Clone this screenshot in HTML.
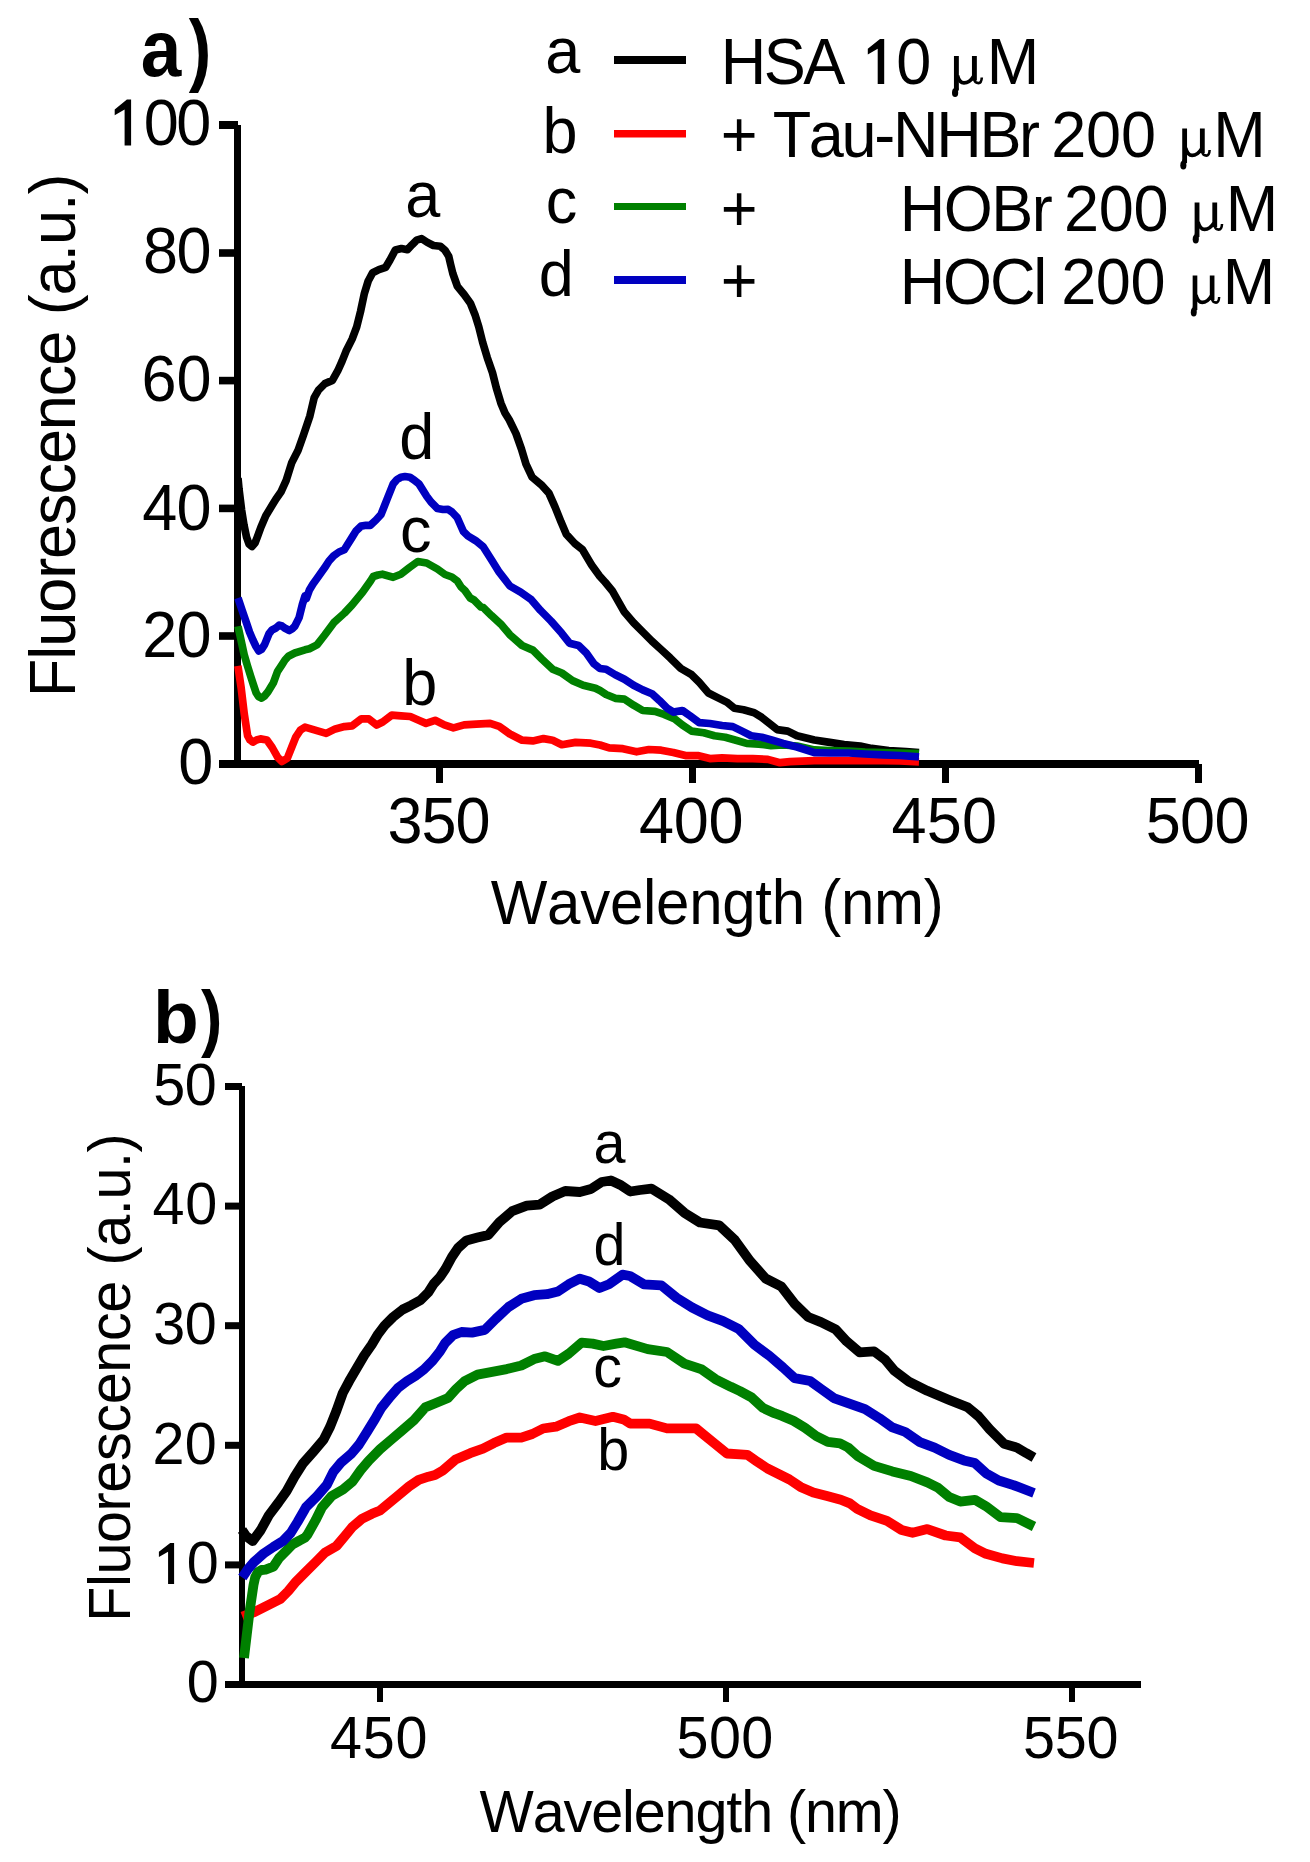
<!DOCTYPE html>
<html><head><meta charset="utf-8"><style>
html,body{margin:0;padding:0;background:#fff;}
svg{display:block;}
text{fill:#000;font-kerning:none;font-variant-ligatures:none;}
</style></head><body>
<svg width="1310" height="1862" viewBox="0 0 1310 1862" shape-rendering="auto">
<rect width="1310" height="1862" fill="#fff"/>
<rect x="234" y="125" width="7" height="643" fill="#000"/>
<rect x="219" y="760" width="980" height="8" fill="#000"/>
<rect x="219" y="249.2" width="15" height="7.6" fill="#000"/>
<rect x="219" y="376.8" width="15" height="7.6" fill="#000"/>
<rect x="219" y="504.6" width="15" height="7.6" fill="#000"/>
<rect x="219" y="632.2" width="15" height="7.6" fill="#000"/>
<rect x="219" y="121" width="19" height="8" fill="#000"/>
<rect x="436" y="764" width="7" height="19" fill="#000"/>
<rect x="689" y="764" width="7" height="19" fill="#000"/>
<rect x="942" y="764" width="7" height="19" fill="#000"/>
<rect x="1195" y="764" width="7" height="19" fill="#000"/>
<path d="M131.10,145.40 L131.10,99.60 L126.90,99.60 L114.70,109.50 L114.70,115.30 L124.60,109.50 L124.60,145.40 Z" fill="#000"/>
<text transform="translate(143.64,145.4) scale(1,1.04)" font-size="63" font-family='"Liberation Sans", sans-serif' letter-spacing="-2.45" xml:space="preserve">00</text>
<text transform="translate(143.06,273.4) scale(1,1.04)" font-size="63" font-family='"Liberation Sans", sans-serif' letter-spacing="-1.68" xml:space="preserve">80</text>
<text transform="translate(141.40,401.4) scale(1,1.04)" font-size="63" font-family='"Liberation Sans", sans-serif' letter-spacing="0.08" xml:space="preserve">60</text>
<text transform="translate(142.25,529.5) scale(1,1.04)" font-size="63" font-family='"Liberation Sans", sans-serif' letter-spacing="-0.87" xml:space="preserve">40</text>
<text transform="translate(142.23,656.5) scale(1,1.04)" font-size="63" font-family='"Liberation Sans", sans-serif' letter-spacing="-0.85" xml:space="preserve">20</text>
<text transform="translate(178.34,784.1) scale(1,1.04)" font-size="63" font-family='"Liberation Sans", sans-serif' xml:space="preserve">0</text>
<text transform="translate(387.60,843.4) scale(1,1.04)" font-size="63" font-family='"Liberation Sans", sans-serif' letter-spacing="-1.13" xml:space="preserve">350</text>
<text transform="translate(639.05,843.4) scale(1,1.04)" font-size="63" font-family='"Liberation Sans", sans-serif' letter-spacing="-0.35" xml:space="preserve">400</text>
<text transform="translate(891.55,843.4) scale(1,1.04)" font-size="63" font-family='"Liberation Sans", sans-serif' letter-spacing="0.20" xml:space="preserve">450</text>
<text transform="translate(1145.78,843.4) scale(1,1.04)" font-size="63" font-family='"Liberation Sans", sans-serif' letter-spacing="-0.71" xml:space="preserve">500</text>
<text transform="translate(490.74,924) scale(1,1.04)" font-size="60" font-family='"Liberation Sans", sans-serif' letter-spacing="-0.27" xml:space="preserve">Wavelength (nm)</text>
<text transform="translate(75,697.17) rotate(-90) scale(1,1.04)" font-size="63" font-family='"Liberation Sans", sans-serif' letter-spacing="-1.06" xml:space="preserve">Fluorescence (a.u.)</text>
<text transform="translate(140.76,76.2) scale(0.911,1.0)" font-size="80" font-family='"Liberation Sans", sans-serif' font-weight="bold">a</text>
<text transform="translate(188.83,76.2) scale(0.845,0.99)" font-size="80" font-family='"Liberation Sans", sans-serif' font-weight="bold">)</text>
<polyline points="238.0,478.0 239.0,489.0 241.6,510.0 244.0,525.0 246.5,537.0 249.0,544.0 252.0,546.5 255.0,543.0 257.2,537.3 261.0,527.0 265.8,515.8 272.3,505.0 276.0,499.0 280.9,492.1 286.2,480.3 291.6,463.1 298.1,450.2 303.4,435.2 309.9,415.9 314.2,397.6 318.5,390.1 324.9,383.6 332.4,380.4 337.8,370.7 342.1,361.1 346.0,351.3 352.1,339.1 356.7,326.9 360.5,311.6 364.4,293.3 368.2,281.0 372.7,272.7 378.9,269.6 385.7,267.3 390.0,260.0 395.3,250.0 401.4,248.5 407.5,249.7 412.1,244.7 416.6,240.2 421.6,238.6 427.3,242.4 433.4,245.5 440.3,246.3 444.9,250.1 448.7,256.2 450.5,264.0 452.8,273.4 457.4,286.4 464.3,294.8 470.4,303.2 475.0,314.7 478.8,326.9 482.6,342.1 487.2,357.4 492.5,372.7 496.3,387.9 500.9,403.2 505.0,413.0 509.2,419.8 516.0,433.6 521.4,448.9 526.0,464.1 532.1,477.1 541.2,484.7 548.9,493.1 555.0,506.9 561.1,522.1 566.4,534.4 574.8,543.5 582.4,549.6 591.6,564.9 599.2,575.6 605.0,582.0 612.2,590.7 618.3,601.4 624.4,612.1 633.6,622.7 642.7,631.9 651.9,641.1 661.1,649.5 670.2,657.9 680.9,668.5 691.6,674.7 699.2,682.3 708.4,693.0 717.6,697.6 726.7,702.1 734.4,708.2 743.5,709.8 754.2,712.8 761.8,717.4 769.5,723.5 777.1,729.6 787.8,731.1 797.0,735.7 814.4,740.0 828.1,742.1 844.1,744.5 860.2,746.1 871.6,748.4 888.8,750.5 906.0,751.5 919.0,752.5" fill="none" stroke="#000" stroke-width="7.7" stroke-linejoin="round" stroke-linecap="butt"/>
<polyline points="237.9,665.9 241.1,687.4 244.3,714.2 247.6,735.7 250.0,740.0 252.9,742.1 256.5,740.0 260.4,738.9 266.9,740.0 272.2,747.5 277.6,757.2 281.9,761.5 287.3,758.3 291.6,747.5 295.9,736.8 300.2,730.3 305.0,727.1 310.9,728.9 318.5,731.1 326.2,733.4 335.3,728.9 344.5,726.6 352.1,725.8 361.3,718.9 368.9,718.9 376.6,725.0 382.7,722.0 391.8,715.1 401.0,715.9 410.2,716.5 419.3,720.5 426.0,723.4 435.1,720.3 444.3,724.9 453.4,727.9 464.1,724.9 476.3,724.1 490.1,723.4 499.2,726.4 509.9,734.0 522.1,740.2 532.8,740.9 543.5,738.6 552.7,740.2 561.8,744.7 575.6,742.4 590.8,743.2 600.0,745.0 609.2,747.9 622.9,748.7 636.6,751.8 648.9,749.5 661.1,750.2 673.3,752.5 685.5,755.6 697.7,755.6 709.9,758.6 722.1,757.9 737.4,758.6 752.7,758.6 767.9,759.4 780.0,762.7 790.0,761.6 814.4,760.7 848.7,760.7 883.0,760.7 900.0,761.0 919.0,761.8" fill="none" stroke="#FF0000" stroke-width="7.7" stroke-linejoin="round" stroke-linecap="butt"/>
<polyline points="238.0,626.2 241.0,640.0 244.3,655.2 247.5,666.0 250.8,676.6 253.5,685.0 256.1,692.7 258.5,696.5 261.5,698.1 264.5,696.0 268.0,691.7 273.3,683.1 277.6,671.3 281.9,664.8 285.0,660.0 288.4,656.2 294.8,653.0 305.0,649.8 309.4,648.7 317.0,644.9 324.7,635.0 333.8,622.7 344.5,613.0 352.0,605.0 362.7,592.0 370.5,581.0 373.3,576.5 378.0,575.0 382.4,574.2 393.1,577.3 400.8,574.2 409.5,567.5 417.8,561.5 426.7,563.0 437.4,569.0 445.0,574.5 451.9,577.0 457.3,581.0 461.1,587.0 464.9,590.5 470.2,598.0 474.0,600.0 480.9,607.0 483.2,607.5 491.6,615.7 500.8,624.1 509.9,634.8 522.1,645.5 532.8,650.1 542.0,659.2 552.7,669.2 561.8,673.0 572.5,680.6 583.2,685.2 595.4,688.2 600.0,690.5 606.1,694.5 615.3,698.3 624.4,699.1 633.6,705.2 642.7,710.5 655.0,711.3 664.1,714.4 674.8,718.9 682.4,725.0 691.6,731.1 703.8,732.7 714.5,735.7 725.2,737.3 735.9,740.3 746.6,743.4 758.8,744.1 771.0,745.6 783.2,745.0 797.0,746.0 814.4,749.9 830.0,750.5 848.7,751.0 865.0,752.0 883.0,752.7 900.0,753.0 919.0,753.6" fill="none" stroke="#008000" stroke-width="7.7" stroke-linejoin="round" stroke-linecap="butt"/>
<polyline points="238.0,598.0 242.0,610.0 246.5,623.0 249.5,632.0 252.9,640.0 256.0,646.5 258.8,651.0 261.5,649.5 264.7,644.4 269.0,633.7 272.0,630.0 275.5,628.3 279.2,625.1 282.0,626.0 285.1,628.3 289.4,630.5 292.0,629.0 294.8,626.2 299.1,617.6 302.3,604.7 305.0,596.0 306.3,598.6 309.4,590.0 313.0,584.0 316.8,578.8 324.4,568.1 329.0,561.0 333.6,555.9 339.0,552.0 344.3,549.8 351.9,537.6 356.0,531.0 361.1,526.1 366.0,525.3 370.2,525.3 376.0,520.0 380.9,514.7 384.0,507.0 387.0,499.4 393.1,484.1 397.0,479.5 400.8,477.3 405.0,476.5 409.9,477.3 414.0,480.0 419.1,484.1 426.7,496.3 431.0,502.0 437.4,508.5 443.0,509.5 448.1,509.3 452.0,512.0 457.3,517.7 463.4,531.5 468.0,536.0 475.6,540.6 483.2,546.7 491.6,560.0 499.2,572.2 509.9,586.0 520.6,592.1 531.3,599.7 540.5,610.4 551.1,621.1 561.8,633.3 569.5,643.2 578.6,645.5 586.3,653.1 593.9,663.8 600.0,668.5 606.1,669.3 615.3,674.7 624.4,679.2 633.6,685.3 642.7,689.9 651.9,693.7 659.5,700.6 667.2,708.2 673.3,712.1 682.4,710.5 690.1,715.9 699.2,722.7 709.9,723.5 722.1,725.5 732.8,726.6 742.0,731.1 751.1,735.7 761.8,737.3 772.5,740.3 783.2,743.4 797.0,747.0 814.4,752.7 830.0,753.0 848.7,753.0 865.0,754.0 883.0,754.9 900.0,755.5 919.0,756.8" fill="none" stroke="#0000C0" stroke-width="7.7" stroke-linejoin="round" stroke-linecap="butt"/>
<text transform="translate(405.32,217) scale(1,1.04)" font-size="63" font-family='"Liberation Sans", sans-serif' xml:space="preserve">a</text>
<text transform="translate(399.35,459) scale(1,1.04)" font-size="63" font-family='"Liberation Sans", sans-serif' xml:space="preserve">d</text>
<text transform="translate(399.92,552) scale(1,1.04)" font-size="63" font-family='"Liberation Sans", sans-serif' xml:space="preserve">c</text>
<text transform="translate(402.34,705.2) scale(1,1.04)" font-size="63" font-family='"Liberation Sans", sans-serif' xml:space="preserve">b</text>
<text transform="translate(545.32,73.2) scale(1,1.04)" font-size="63" font-family='"Liberation Sans", sans-serif' xml:space="preserve">a</text>
<text transform="translate(542.44,153.2) scale(1,1.04)" font-size="63" font-family='"Liberation Sans", sans-serif' xml:space="preserve">b</text>
<text transform="translate(545.82,223.4) scale(1,1.04)" font-size="63" font-family='"Liberation Sans", sans-serif' xml:space="preserve">c</text>
<text transform="translate(538.65,296.2) scale(1,1.04)" font-size="63" font-family='"Liberation Sans", sans-serif' xml:space="preserve">d</text>
<rect x="614" y="56" width="72" height="8" fill="#000"/>
<rect x="614" y="130" width="72" height="7.5" fill="#FF0000"/>
<rect x="614" y="203" width="72" height="7" fill="#008000"/>
<rect x="614" y="276" width="72" height="8" fill="#0000C0"/>
<text transform="translate(720.73,84) scale(1,1.04)" font-size="63" font-family='"Liberation Sans", sans-serif' letter-spacing="-2.52" xml:space="preserve">HSA</text>
<path d="M884.20,84.00 L884.20,39.10 L880.00,39.10 L867.80,48.81 L867.80,54.49 L877.70,48.81 L877.70,84.00 Z" fill="#000"/>
<text transform="translate(896.34,84) scale(1,1.04)" font-size="63" font-family='"Liberation Sans", sans-serif' xml:space="preserve">0</text>
<g transform="translate(952.0,84.5) scale(1.000,1)" fill="none" stroke="#000"><path d="M4.4,-28.5 V6" stroke-width="4.9"/><path d="M4.3,3 L3.4,8" stroke-width="4.4"/><ellipse cx="3.1" cy="8.2" rx="3.1" ry="4.4" fill="#000" stroke="none"/><path d="M5.5,-9 Q7.5,-1.6 12,-1.6 Q17.5,-1.6 21.5,-8" stroke-width="3.6"/><path d="M22.4,-28.5 V-4" stroke-width="4.9"/><path d="M22.2,-5 Q23,-1.4 26.5,-1.4 Q29.5,-1.4 29.8,-7" stroke-width="2.6"/></g>
<text transform="translate(986.83,84) scale(1,1.04)" font-size="63" font-family='"Liberation Sans", sans-serif' xml:space="preserve">M</text>
<text transform="translate(720.82,156.7) scale(1,1.04)" font-size="63" font-family='"Liberation Sans", sans-serif' xml:space="preserve">+</text>
<text transform="translate(772.68,156.7) scale(1,1.04)" font-size="63" font-family='"Liberation Sans", sans-serif' letter-spacing="-2.30" xml:space="preserve">Tau-NHBr</text>
<text transform="translate(1051.13,156.7) scale(1,1.04)" font-size="63" font-family='"Liberation Sans", sans-serif' letter-spacing="-0.14" xml:space="preserve">200</text>
<g transform="translate(1180.3,157) scale(0.984,1)" fill="none" stroke="#000"><path d="M4.4,-28.5 V6" stroke-width="4.9"/><path d="M4.3,3 L3.4,8" stroke-width="4.4"/><ellipse cx="3.1" cy="8.2" rx="3.1" ry="4.4" fill="#000" stroke="none"/><path d="M5.5,-9 Q7.5,-1.6 12,-1.6 Q17.5,-1.6 21.5,-8" stroke-width="3.6"/><path d="M22.4,-28.5 V-4" stroke-width="4.9"/><path d="M22.2,-5 Q23,-1.4 26.5,-1.4 Q29.5,-1.4 29.8,-7" stroke-width="2.6"/></g>
<text transform="translate(1213.23,156.7) scale(1,1.04)" font-size="63" font-family='"Liberation Sans", sans-serif' xml:space="preserve">M</text>
<text transform="translate(720.82,230.6) scale(1,1.04)" font-size="63" font-family='"Liberation Sans", sans-serif' xml:space="preserve">+</text>
<text transform="translate(899.73,230.8) scale(1,1.04)" font-size="63" font-family='"Liberation Sans", sans-serif' letter-spacing="-1.53" xml:space="preserve">HOBr</text>
<text transform="translate(1063.93,231) scale(1,1.04)" font-size="63" font-family='"Liberation Sans", sans-serif' letter-spacing="-0.29" xml:space="preserve">200</text>
<g transform="translate(1192.7,231) scale(0.984,1)" fill="none" stroke="#000"><path d="M4.4,-28.5 V6" stroke-width="4.9"/><path d="M4.3,3 L3.4,8" stroke-width="4.4"/><ellipse cx="3.1" cy="8.2" rx="3.1" ry="4.4" fill="#000" stroke="none"/><path d="M5.5,-9 Q7.5,-1.6 12,-1.6 Q17.5,-1.6 21.5,-8" stroke-width="3.6"/><path d="M22.4,-28.5 V-4" stroke-width="4.9"/><path d="M22.2,-5 Q23,-1.4 26.5,-1.4 Q29.5,-1.4 29.8,-7" stroke-width="2.6"/></g>
<text transform="translate(1225.63,230.8) scale(1,1.04)" font-size="63" font-family='"Liberation Sans", sans-serif' xml:space="preserve">M</text>
<text transform="translate(720.82,303) scale(1,1.04)" font-size="63" font-family='"Liberation Sans", sans-serif' xml:space="preserve">+</text>
<text transform="translate(899.73,303.6) scale(1,1.04)" font-size="63" font-family='"Liberation Sans", sans-serif' letter-spacing="-2.14" xml:space="preserve">HOCl</text>
<text transform="translate(1061.23,303.6) scale(1,1.04)" font-size="63" font-family='"Liberation Sans", sans-serif' letter-spacing="-0.39" xml:space="preserve">200</text>
<g transform="translate(1190.8,304) scale(0.952,1)" fill="none" stroke="#000"><path d="M4.4,-28.5 V6" stroke-width="4.9"/><path d="M4.3,3 L3.4,8" stroke-width="4.4"/><ellipse cx="3.1" cy="8.2" rx="3.1" ry="4.4" fill="#000" stroke="none"/><path d="M5.5,-9 Q7.5,-1.6 12,-1.6 Q17.5,-1.6 21.5,-8" stroke-width="3.6"/><path d="M22.4,-28.5 V-4" stroke-width="4.9"/><path d="M22.2,-5 Q23,-1.4 26.5,-1.4 Q29.5,-1.4 29.8,-7" stroke-width="2.6"/></g>
<text transform="translate(1222.83,303.6) scale(1,1.04)" font-size="63" font-family='"Liberation Sans", sans-serif' xml:space="preserve">M</text>
<rect x="239" y="1086" width="6" height="602" fill="#000"/>
<rect x="225" y="1681" width="916" height="7" fill="#000"/>
<rect x="225" y="1561.4" width="14" height="7" fill="#000"/>
<rect x="225" y="1441.8" width="14" height="7" fill="#000"/>
<rect x="225" y="1322.2" width="14" height="7" fill="#000"/>
<rect x="225" y="1202.6" width="14" height="7" fill="#000"/>
<rect x="225" y="1083" width="17" height="7" fill="#000"/>
<rect x="377" y="1684" width="6" height="18" fill="#000"/>
<rect x="723" y="1684" width="6" height="18" fill="#000"/>
<rect x="1069" y="1684" width="6" height="18" fill="#000"/>
<text transform="translate(186.75,1702.1) scale(1,1.04)" font-size="57.5" font-family='"Liberation Sans", sans-serif' xml:space="preserve">0</text>
<path d="M174.10,1583.90 L174.10,1542.90 L170.21,1542.90 L158.90,1551.76 L158.90,1556.95 L168.08,1551.76 L168.08,1583.90 Z" fill="#000"/>
<text transform="translate(186.75,1583.1000000000001) scale(1,1.04)" font-size="57.5" font-family='"Liberation Sans", sans-serif' xml:space="preserve">0</text>
<text transform="translate(152.61,1463.5) scale(1,1.04)" font-size="57.5" font-family='"Liberation Sans", sans-serif' letter-spacing="0.18" xml:space="preserve">20</text>
<text transform="translate(153.31,1343.9) scale(1,1.04)" font-size="57.5" font-family='"Liberation Sans", sans-serif' letter-spacing="-0.52" xml:space="preserve">30</text>
<text transform="translate(152.58,1224.3) scale(1,1.04)" font-size="57.5" font-family='"Liberation Sans", sans-serif' letter-spacing="0.61" xml:space="preserve">40</text>
<text transform="translate(153.20,1104.7) scale(1,1.04)" font-size="57.5" font-family='"Liberation Sans", sans-serif' letter-spacing="-0.41" xml:space="preserve">50</text>
<text transform="translate(330.08,1758.4) scale(1,1.04)" font-size="57.5" font-family='"Liberation Sans", sans-serif' letter-spacing="0.76" xml:space="preserve">450</text>
<text transform="translate(676.60,1758.4) scale(1,1.04)" font-size="57.5" font-family='"Liberation Sans", sans-serif' letter-spacing="0.36" xml:space="preserve">500</text>
<text transform="translate(1022.90,1758.4) scale(1,1.04)" font-size="57.5" font-family='"Liberation Sans", sans-serif' letter-spacing="-0.14" xml:space="preserve">550</text>
<text transform="translate(479.55,1832) scale(1,1.04)" font-size="57.5" font-family='"Liberation Sans", sans-serif' letter-spacing="-1.11" xml:space="preserve">Wavelength (nm)</text>
<text transform="translate(130,1621.72) rotate(-90) scale(1,1.04)" font-size="57.5" font-family='"Liberation Sans", sans-serif' letter-spacing="-0.38" xml:space="preserve">Fluorescence (a.u.)</text>
<text transform="translate(153.06,1043) scale(1.020,1.0)" font-size="73.5" font-family='"Liberation Sans", sans-serif' font-weight="bold">b</text>
<text transform="translate(200.94,1043) scale(0.870,1.0)" font-size="73.5" font-family='"Liberation Sans", sans-serif' font-weight="bold">)</text>
<polyline points="242.0,1530.0 246.0,1536.0 252.7,1541.0 260.8,1530.0 268.8,1515.4 278.5,1502.5 286.6,1491.2 294.6,1476.7 302.7,1463.8 314.0,1450.9 323.6,1439.6 330.1,1426.7 336.5,1410.6 342.8,1393.0 349.2,1381.1 356.7,1368.3 364.2,1355.5 371.7,1344.8 378.1,1334.1 384.5,1325.6 393.1,1317.0 402.7,1309.5 411.2,1305.3 420.8,1299.9 428.3,1292.4 433.7,1283.9 440.0,1277.0 445.4,1269.0 451.9,1257.0 458.0,1248.0 466.5,1240.4 477.5,1237.6 488.4,1234.9 499.4,1222.1 512.2,1211.1 526.8,1205.7 539.6,1204.7 552.4,1196.5 565.2,1191.0 579.8,1192.0 591.0,1189.0 601.7,1182.0 610.9,1180.5 620.0,1184.7 630.3,1191.5 640.0,1190.0 651.5,1188.6 668.9,1199.3 684.4,1212.8 699.9,1222.5 719.2,1225.4 734.7,1239.9 750.1,1261.1 765.6,1278.5 781.1,1286.3 794.6,1303.7 808.2,1317.0 821.0,1322.1 835.6,1329.4 846.6,1341.3 859.5,1352.3 874.1,1351.4 885.1,1359.6 894.3,1370.6 908.9,1381.6 927.3,1390.8 949.2,1399.9 967.6,1407.3 978.6,1416.4 989.6,1429.2 1004.2,1443.9 1017.0,1447.6 1026.2,1453.1 1034.0,1457.5" fill="none" stroke="#000" stroke-width="9.8" stroke-linejoin="round" stroke-linecap="butt"/>
<polyline points="242.3,1616.5 254.3,1612.1 267.2,1605.6 280.1,1599.2 288.2,1591.1 296.2,1581.4 305.9,1571.8 315.6,1562.1 325.2,1552.4 336.5,1546.0 344.6,1536.3 352.6,1526.7 362.3,1518.6 372.0,1513.8 380.0,1510.5 389.7,1502.5 399.4,1494.4 409.1,1486.4 418.7,1479.9 428.4,1476.7 435.0,1475.0 442.8,1470.5 455.6,1459.5 470.2,1453.2 483.0,1448.6 493.9,1443.1 506.7,1437.6 521.3,1437.6 532.3,1434.0 543.2,1428.5 556.0,1426.7 568.8,1421.2 579.8,1417.5 595.5,1421.0 612.9,1416.8 623.6,1419.4 630.3,1423.6 649.6,1423.6 667.0,1428.4 696.0,1428.4 711.5,1441.0 726.9,1453.5 740.0,1454.4 747.3,1454.8 756.5,1461.2 767.5,1468.5 778.5,1474.0 789.5,1479.5 800.5,1486.9 813.3,1492.4 827.0,1496.0 840.8,1499.7 849.9,1503.4 857.2,1508.9 870.5,1515.4 887.0,1520.9 901.6,1530.0 912.6,1532.8 927.3,1529.1 945.6,1535.5 960.2,1537.3 974.9,1548.3 985.9,1553.8 1002.4,1558.4 1017.0,1561.2 1034.0,1563.0" fill="none" stroke="#FF0000" stroke-width="9.8" stroke-linejoin="round" stroke-linecap="butt"/>
<polyline points="244.0,1658.0 246.7,1635.3 249.5,1612.0 251.8,1596.6 253.5,1585.0 255.2,1577.3 258.0,1572.0 261.5,1570.0 265.6,1569.6 273.3,1566.7 279.1,1558.0 286.8,1550.2 292.6,1544.4 299.4,1540.6 305.0,1537.7 307.5,1534.7 315.6,1520.2 322.0,1507.3 331.7,1496.0 343.0,1489.6 352.6,1481.5 360.7,1470.2 368.8,1460.6 380.0,1449.3 391.3,1439.6 402.6,1430.0 413.9,1420.3 425.2,1407.4 434.8,1403.5 448.0,1398.0 456.1,1389.0 464.7,1381.1 477.5,1374.6 492.1,1371.9 506.7,1369.1 521.3,1365.5 534.1,1359.1 545.1,1356.3 557.9,1360.9 568.8,1353.6 581.6,1342.6 592.6,1343.6 603.5,1346.0 616.3,1343.6 624.5,1342.3 647.7,1349.1 667.0,1352.0 684.4,1363.6 701.8,1369.4 715.3,1379.1 730.8,1386.8 740.0,1391.1 751.5,1397.4 762.9,1407.9 774.4,1413.2 782.0,1415.9 793.4,1420.8 804.9,1427.7 816.3,1436.1 827.8,1441.8 840.0,1443.4 848.1,1447.5 857.2,1455.7 874.1,1465.9 892.4,1471.4 910.8,1476.0 927.3,1482.4 938.3,1487.9 949.2,1497.0 960.2,1501.6 974.9,1499.8 985.9,1506.2 1000.5,1517.2 1017.0,1518.1 1034.0,1526.5" fill="none" stroke="#008000" stroke-width="9.8" stroke-linejoin="round" stroke-linecap="butt"/>
<polyline points="242.3,1577.5 248.0,1569.0 254.0,1562.0 263.6,1553.5 273.3,1547.0 283.0,1541.0 290.7,1533.0 297.5,1522.0 305.0,1509.0 305.9,1507.3 317.2,1496.0 326.9,1484.8 333.3,1471.9 341.4,1462.2 351.0,1454.1 359.1,1444.5 367.2,1431.6 375.2,1418.7 381.3,1407.9 389.8,1397.2 398.4,1387.6 407.0,1381.1 415.5,1375.8 424.0,1369.4 432.6,1360.8 440.1,1351.2 445.4,1342.7 452.9,1335.2 461.5,1332.0 472.0,1332.6 484.8,1329.9 495.8,1318.9 508.5,1307.0 521.3,1298.8 534.1,1295.2 546.9,1294.2 557.9,1291.5 568.8,1284.2 579.8,1278.7 589.0,1281.5 599.5,1288.0 609.0,1284.2 622.5,1274.7 630.0,1276.0 643.8,1284.3 661.2,1285.3 676.7,1297.9 692.1,1307.5 707.6,1315.3 723.1,1321.1 738.5,1328.8 754.0,1344.3 769.5,1355.9 783.0,1367.5 794.6,1378.1 810.1,1381.0 821.0,1388.9 833.8,1398.1 846.6,1402.7 865.0,1409.1 879.6,1418.3 892.4,1427.4 905.3,1432.0 919.9,1442.1 934.6,1447.6 949.2,1454.9 963.9,1460.4 974.9,1463.1 985.9,1473.2 998.7,1480.5 1013.4,1485.1 1034.0,1493.0" fill="none" stroke="#0000C0" stroke-width="9.8" stroke-linejoin="round" stroke-linecap="butt"/>
<text transform="translate(593.46,1163) scale(1,1.04)" font-size="57.5" font-family='"Liberation Sans", sans-serif' xml:space="preserve">a</text>
<text transform="translate(593.39,1265) scale(1,1.04)" font-size="57.5" font-family='"Liberation Sans", sans-serif' xml:space="preserve">d</text>
<text transform="translate(593.36,1387.3) scale(1,1.04)" font-size="57.5" font-family='"Liberation Sans", sans-serif' xml:space="preserve">c</text>
<text transform="translate(597.19,1470.4) scale(1,1.04)" font-size="57.5" font-family='"Liberation Sans", sans-serif' xml:space="preserve">b</text>
</svg>
</body></html>
